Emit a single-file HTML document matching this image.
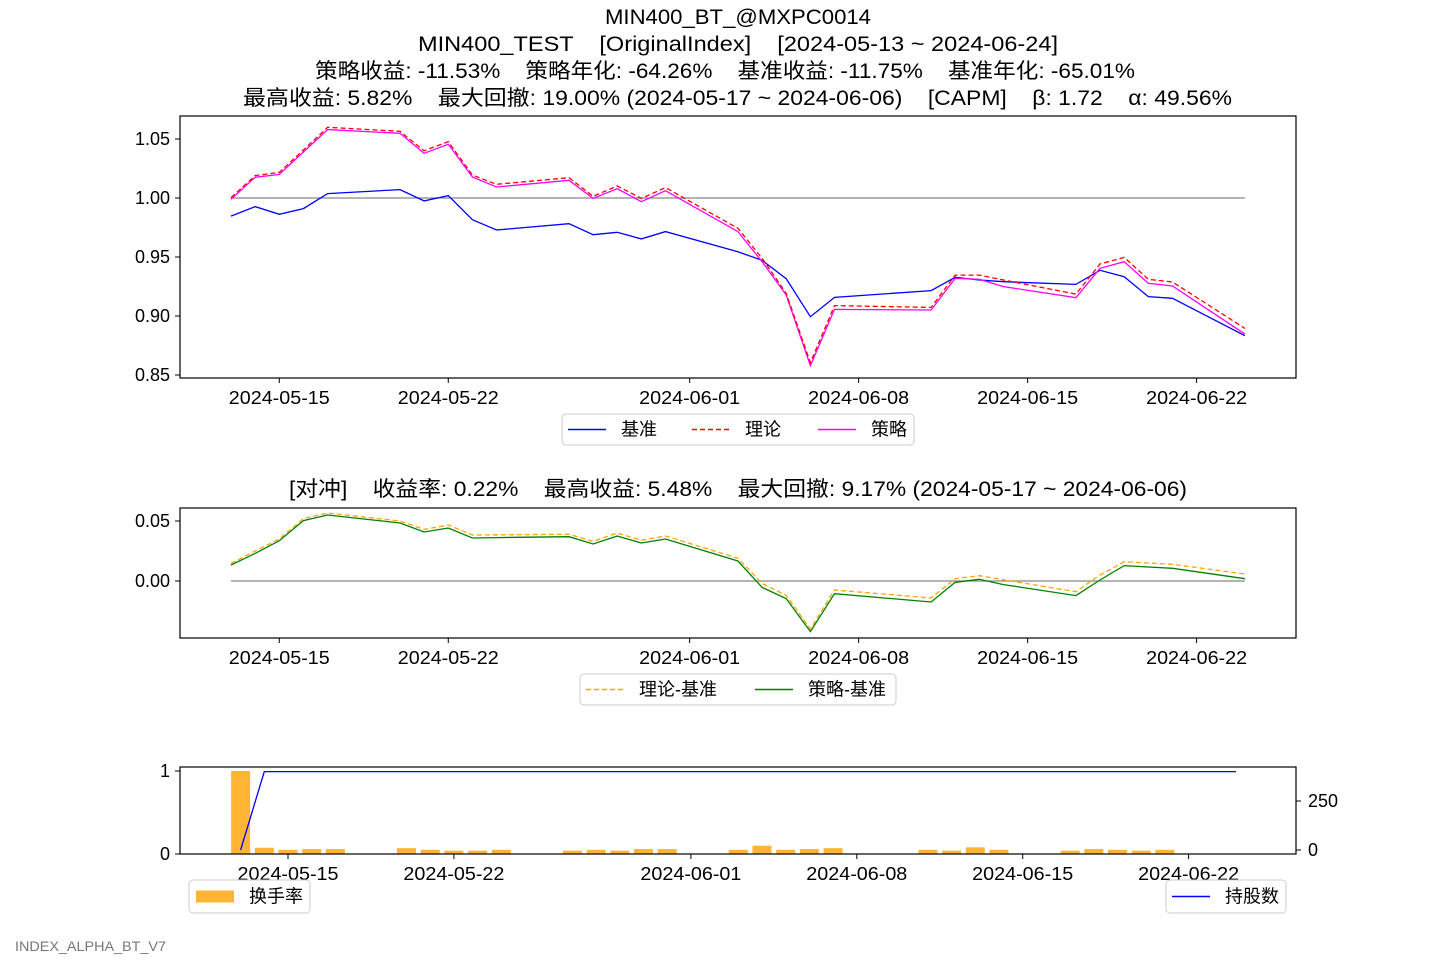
<!DOCTYPE html>
<html><head><meta charset="utf-8">
<style>
html,body{margin:0;padding:0;background:#fff;}
body{width:1440px;height:960px;overflow:hidden;font-family:"Liberation Sans","Noto Sans CJK SC",sans-serif;}
svg text{font-family:"Liberation Sans","Noto Sans CJK SC",sans-serif;}
</style></head>
<body>
<svg id="chart" width="1440" height="960" xmlns="http://www.w3.org/2000/svg">
<g font-size="21" fill="#000">
<text x="605" y="24" textLength="266" lengthAdjust="spacingAndGlyphs">MIN400_BT_@MXPC0014</text>
<text x="418" y="51" xml:space="preserve" textLength="640" lengthAdjust="spacingAndGlyphs">MIN400_TEST    [OriginalIndex]    [2024-05-13 ~ 2024-06-24]</text>
<text x="315" y="78" xml:space="preserve" textLength="820" lengthAdjust="spacingAndGlyphs">策略收益: -11.53%    策略年化: -64.26%    基准收益: -11.75%    基准年化: -65.01%</text>
<text x="243" y="105" xml:space="preserve" textLength="989" lengthAdjust="spacingAndGlyphs">最高收益: 5.82%    最大回撤: 19.00% (2024-05-17 ~ 2024-06-06)    [CAPM]    β: 1.72    α: 49.56%</text>
</g>
<text x="289" y="496" font-size="21" xml:space="preserve" textLength="898" lengthAdjust="spacingAndGlyphs">[对冲]    收益率: 0.22%    最高收益: 5.48%    最大回撤: 9.17% (2024-05-17 ~ 2024-06-06)</text>
<text x="15" y="951" font-size="14" fill="#777" textLength="151" lengthAdjust="spacingAndGlyphs">INDEX_ALPHA_BT_V7</text>
<g id="g1"></g>
<g id="g2"></g>
<g id="g3"></g>
</svg>
<script>
const dates=["2024-05-13","2024-05-14","2024-05-15","2024-05-16","2024-05-17","2024-05-20","2024-05-21","2024-05-22","2024-05-23","2024-05-24","2024-05-27","2024-05-28","2024-05-29","2024-05-30","2024-05-31","2024-06-03","2024-06-04","2024-06-05","2024-06-06","2024-06-07","2024-06-11","2024-06-12","2024-06-13","2024-06-14","2024-06-17","2024-06-18","2024-06-19","2024-06-20","2024-06-21","2024-06-24"];
const benchmark=[0.9847,0.9927,0.9862,0.991,1.0037,1.0071,0.9975,1.002,0.9816,0.9729,0.9782,0.9689,0.9709,0.9653,0.9715,0.9544,0.9472,0.9316,0.8994,0.9158,0.9215,0.9328,0.9305,0.9291,0.9268,0.9387,0.9333,0.9164,0.915,0.8833];
const theory=[1.0003,1.019,1.0218,1.0407,1.0599,1.0565,1.0401,1.0477,1.0195,1.0116,1.0172,1.0014,1.0102,0.9997,1.0088,0.9743,0.9489,0.9192,0.8605,0.9088,0.9073,0.9347,0.9347,0.9305,0.9186,0.9441,0.9497,0.9311,0.9288,0.8895];
const strategy=[0.9989,1.0175,1.02,1.039,1.058,1.0548,1.0379,1.0455,1.0178,1.0093,1.015,0.9997,1.0079,0.9969,1.0062,0.9715,0.946,0.9178,0.8579,0.9056,0.9051,0.9319,0.9311,0.9249,0.9155,0.9404,0.946,0.9277,0.9254,0.8847];
const theoryMinusBench=[0.0147,0.025,0.035,0.052,0.0567,0.05,0.043,0.0467,0.0383,0.0385,0.0389,0.033,0.04,0.034,0.0375,0.019,-0.002,-0.012,-0.040,-0.0075,-0.0142,0.002,0.0044,0.001,-0.0089,0.005,0.016,0.015,0.0139,0.0058];
const stratMinusBench=[0.0133,0.023,0.0336,0.0503,0.055,0.0483,0.0408,0.0442,0.0358,0.0362,0.0369,0.0308,0.0375,0.0317,0.035,0.0167,-0.0053,-0.0147,-0.0422,-0.0106,-0.0175,-0.0011,0.0014,-0.003,-0.0122,0.0008,0.0128,0.0117,0.0106,0.0019];
const turnover=[1.0,0.075,0.05,0.06,0.06,0.07,0.05,0.04,0.04,0.05,0.04,0.05,0.04,0.06,0.06,0.05,0.10,0.05,0.06,0.07,0.05,0.04,0.08,0.05,0.04,0.06,0.05,0.04,0.05,0];
const holdings=[0,400,400,400,400,400,400,400,400,400,400,400,400,400,400,400,400,400,400,400,400,400,400,400,400,400,400,400,400,400];
const tickDates=["2024-05-15","2024-05-22","2024-06-01","2024-06-08","2024-06-15","2024-06-22"];
const ticks1=[0.85,0.90,0.95,1.00,1.05];
const ticks2=[0.00,0.05];
const ticks3L=[0,1];
const ticks3R=[0,250];

const NS="http://www.w3.org/2000/svg";
const day0=Date.parse("2024-05-13");
function dayOff(s){return (Date.parse(s)-day0)/86400000;}
function xTop(s){return 231+dayOff(s)*24.14;}
function xBot(s){return 240.6+dayOff(s)*23.7;}
function y1(v){return 198-(v-1)*1180;}
function y2(v){return 581-v*1200;}
function y3L(v){return 854-v*83;}
function y3R(v){return 850-v*0.196;}
function mk(parent,tag,attrs,text){const e=document.createElementNS(NS,tag);for(const k in attrs)e.setAttribute(k,attrs[k]);if(text!==undefined)e.textContent=text;parent.appendChild(e);return e;}

function frame(g,x0,y0,x1,y1_,name){
  const r=mk(g,'rect',{x:x0,y:y0,width:x1-x0,height:y1_-y0,fill:'none',stroke:'#000','stroke-width':1.2});
  
  
}
function xTicks(g,xf,yb,labY){
  tickDates.forEach(d=>{const x=xf(d);
    const l=mk(g,'line',{x1:x,x2:x,y1:yb,y2:yb+5,stroke:'#000'});
    
    
    const t=mk(g,'text',{x:x-50.5,y:labY,'font-size':18,textLength:101,lengthAdjust:'spacingAndGlyphs'},d);
    
    
  });
}
function yTicks(g,vals,yf,x0,fmt,right){
  vals.forEach(v=>{const y=yf(v);
    const l=mk(g,'line',{x1:right?x0:x0-5,x2:right?x0+5:x0,y1:y,y2:y,stroke:'#000'});
    
    
    const t=mk(g,'text',{x:right?x0+12:x0-10,y:y+6,'font-size':18,'text-anchor':right?'start':'end'},fmt(v));
    
    
  });
}
function line(g,xf,yf,vals,attrs,name){
  const pts=vals.map((v,i)=>xf(dates[i]).toFixed(1)+','+yf(v).toFixed(1)).join(' ');
  const p=mk(g,'polyline',Object.assign({points:pts,fill:'none'},attrs));
  
  
}
function legend(g,x,y,w,h,items){
  const r=mk(g,'rect',{x:x,y:y,width:w,height:h,rx:4,fill:'#fff',stroke:'#ccc'});
  
  
  items.forEach(it=>{
    const l=mk(g,'line',{x1:it.x,x2:it.x+38,y1:y+h/2,y2:y+h/2,stroke:it.c,'stroke-width':it.w||1.5,'stroke-dasharray':it.d||'none'});
    
    
    const t=mk(g,'text',{x:it.x+53,y:y+h/2+6,'font-size':18},it.t);
    
    
  });
}

// Panel 1
const g1=document.getElementById('g1');
mk(g1,'line',{x1:xTop(dates[0]),x2:xTop(dates[29]),y1:y1(1),y2:y1(1),stroke:'#888','stroke-width':1.3});
line(g1,xTop,y1,benchmark,{stroke:'#0000ff','stroke-width':1.3},'benchmark-line');
line(g1,xTop,y1,strategy,{stroke:'#ff00ff','stroke-width':1.3},'strategy-line');
line(g1,xTop,y1,theory,{stroke:'#ff0000','stroke-width':1.3,'stroke-dasharray':'5,3'},'theory-line');
frame(g1,180,116,1296,378,'price-plot-area');
xTicks(g1,xTop,378,404);
yTicks(g1,ticks1,y1,180,v=>v.toFixed(2));
legend(g1,562,414,352,31,[{x:568,c:'#0000ff',t:'基准'},{x:692,c:'#ff0000',t:'理论',d:'5,3'},{x:818,c:'#ff00ff',t:'策略'}]);

// Panel 2
const g2=document.getElementById('g2');
mk(g2,'line',{x1:xTop(dates[0]),x2:xTop(dates[29]),y1:y2(0),y2:y2(0),stroke:'#888','stroke-width':1.3});
line(g2,xTop,y2,stratMinusBench,{stroke:'#008000','stroke-width':1.3},'strategy-minus-benchmark-line');
line(g2,xTop,y2,theoryMinusBench,{stroke:'#ffa500','stroke-width':1.3,'stroke-dasharray':'5,3'},'theory-minus-benchmark-line');
frame(g2,180,508,1296,638,'hedge-plot-area');
xTicks(g2,xTop,638,664);
yTicks(g2,ticks2,y2,180,v=>v.toFixed(2));
legend(g2,580,674,316,31,[{x:586,c:'#ffa500',t:'理论-基准',d:'5,3'},{x:755,c:'#008000',t:'策略-基准'}]);

// Panel 3
const g3=document.getElementById('g3');
turnover.forEach((v,i)=>{const x=xBot(dates[i]);
  const b=mk(g3,'rect',{x:x-9.5,y:y3L(v),width:19,height:854-y3L(v),fill:'#ffb533'});
  
  
});
line(g3,xBot,y3R,holdings,{stroke:'#0000ff','stroke-width':1.3},'holdings-line');
frame(g3,180,767,1296,854,'turnover-plot-area');
xTicks(g3,xBot,854,880);
yTicks(g3,ticks3L,y3L,180,v=>String(v));
yTicks(g3,ticks3R,y3R,1296,v=>String(v),true);
legend(g3,189,880,121,33,[{x:196,c:'#ffb533',t:'换手率',w:12}]);
legend(g3,1166,880,120,33,[{x:1172,c:'#0000ff',t:'持股数'}]);
</script>
</body></html>
